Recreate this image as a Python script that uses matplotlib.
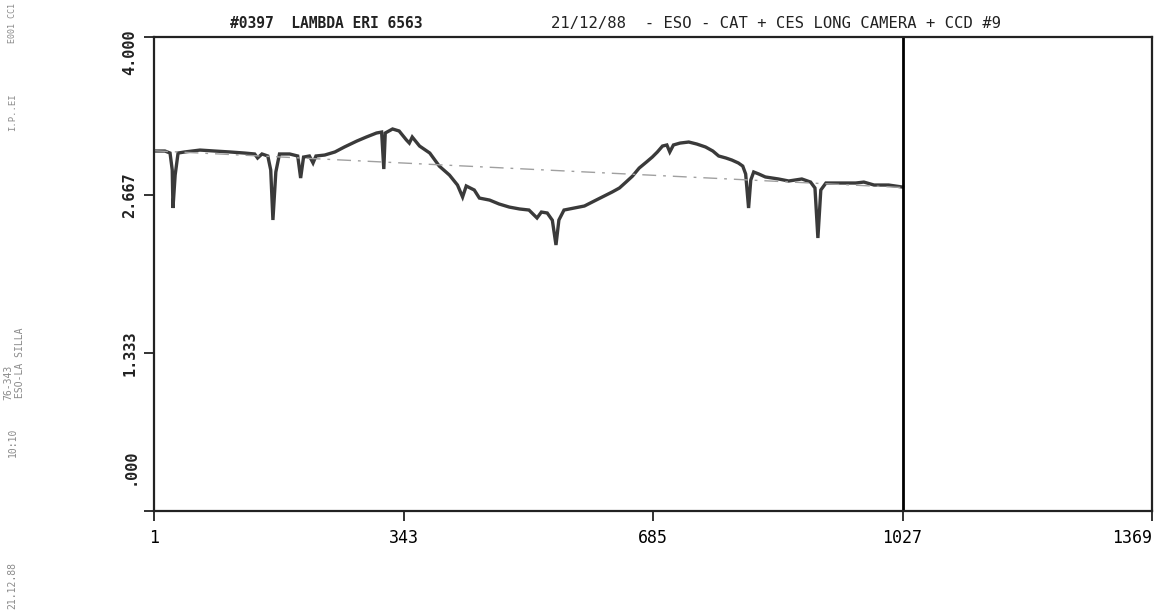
import matplotlib
matplotlib.use("Agg")
import matplotlib.pyplot as plt

# spectrum (pixel index, relative flux)
pixel = [1, 16, 23, 26, 27, 30, 34, 43, 64, 84, 105, 125, 139, 143, 149, 157, 161, 164,
         168, 173, 187, 198, 202, 206, 214, 219, 223, 235, 249, 262, 279, 292, 306, 313,
         316, 318, 328, 337, 347, 351, 355, 365, 379, 392, 406, 417, 424, 429, 440, 447,
         461, 474, 488, 502, 515, 526, 532, 540, 547, 552, 556, 563, 577, 591, 607, 618,
         629, 639, 648, 657, 666, 676, 684, 691, 698, 704, 708, 713, 722, 734, 745, 757,
         767, 775, 785, 793, 802, 808, 812, 816, 819, 823, 830, 839, 857, 871, 889, 901,
         907, 911, 915, 922, 940, 963, 974, 988, 1008, 1027]
flux = [3.038, 3.038, 3.021, 2.878, 2.557, 2.835, 3.021, 3.030, 3.046, 3.038, 3.030, 3.021,
        3.013, 2.979, 3.013, 2.996, 2.878, 2.456, 2.861, 3.013, 3.013, 2.996, 2.810, 2.987,
        2.996, 2.937, 2.996, 3.004, 3.030, 3.072, 3.122, 3.156, 3.190, 3.198, 2.886, 3.190,
        3.224, 3.207, 3.131, 3.105, 3.156, 3.080, 3.021, 2.911, 2.835, 2.751, 2.650, 2.743,
        2.709, 2.641, 2.624, 2.591, 2.565, 2.549, 2.540, 2.473, 2.523, 2.515, 2.454, 2.245,
        2.456, 2.540, 2.557, 2.574, 2.624, 2.658, 2.692, 2.726, 2.776, 2.827, 2.894, 2.945,
        2.987, 3.030, 3.080, 3.089, 3.030, 3.089, 3.105, 3.114, 3.097, 3.072, 3.038, 2.996,
        2.979, 2.962, 2.937, 2.911, 2.844, 2.557, 2.793, 2.861, 2.844, 2.819, 2.802, 2.785,
        2.802, 2.776, 2.726, 2.304, 2.709, 2.768, 2.768, 2.768, 2.776, 2.751, 2.751, 2.734]

# fitted continuum (end points)
cont_x = [1, 1027]
cont_y = [3.04, 2.73]

x_ticks = [1, 343, 685, 1027, 1369]
y_ticks = [0.0, 1.333, 2.667, 4.0]
y_labels = [".000", "1.333", "2.667", "4.000"]

title_left = "#0397  LAMBDA ERI 6563"
title_right = "21/12/88  - ESO - CAT + CES LONG CAMERA + CCD #9"

mono = "DejaVu Sans Mono"

fig = plt.figure(figsize=(11.57, 6.12), dpi=100)
ax = fig.add_axes([0.1331, 0.165, 0.8626, 0.7745])

ax.plot(pixel, flux, color="#3a3a3a", lw=2.4, solid_joinstyle="miter")
ax.plot(cont_x, cont_y, color="#a0a0a0", lw=1.0, linestyle=(0, (10, 5, 2, 5)))
ax.axvline(1027, color="black", lw=2.0)

ax.set_xlim(1, 1369)
ax.set_ylim(0, 4)

for s in ax.spines.values():
    s.set_linewidth(1.6)
    s.set_color("#222222")

ax.set_xticks(x_ticks)
ax.set_xticklabels([str(t) for t in x_ticks], fontsize=12, family=mono)
ax.get_xticklabels()[-1].set_horizontalalignment("right")
ax.set_yticks(y_ticks)
ax.set_yticklabels([])
ax.tick_params(axis="both", direction="out", length=7, width=1.3, color="#222222")
ax.tick_params(axis="x", pad=6)

# y labels are rotated and kept inside the frame
label_pos = [0.37, 1.333, 2.667, 3.87]
for yy, lab in zip(label_pos, y_labels):
    ax.text(-0.024, yy, lab, transform=ax.get_yaxis_transform(), rotation=90,
            ha="center", va="center", fontsize=11, family=mono, fontweight="bold",
            color="#222222")

fig.text(0.199, 0.962, title_left, fontsize=10.5, family=mono, fontweight="bold",
         color="#222222", va="center")
fig.text(0.476, 0.962, title_right, fontsize=11.2, family=mono, color="#222222", va="center")

# faint stamp text along the left margin
gray = "#8a8a8a"
fig.text(0.011, 0.962, "E001 CC1", rotation=90, fontsize=6, family=mono, color=gray, ha="center", va="center")
fig.text(0.011, 0.817, "I.P..EI", rotation=90, fontsize=6.5, family=mono, color=gray, ha="center", va="center")
fig.text(0.007, 0.375, "76-343", rotation=90, fontsize=7, family=mono, color=gray, ha="center", va="center")
fig.text(0.017, 0.408, "ESO-LA SILLA", rotation=90, fontsize=7, family=mono, color=gray, ha="center", va="center")
fig.text(0.011, 0.278, "10:10", rotation=90, fontsize=7, family=mono, color=gray, ha="center", va="center")
fig.text(0.011, 0.044, "21.12.88", rotation=90, fontsize=7, family=mono, color=gray, ha="center", va="center")

fig.savefig("out.png", dpi=100)
